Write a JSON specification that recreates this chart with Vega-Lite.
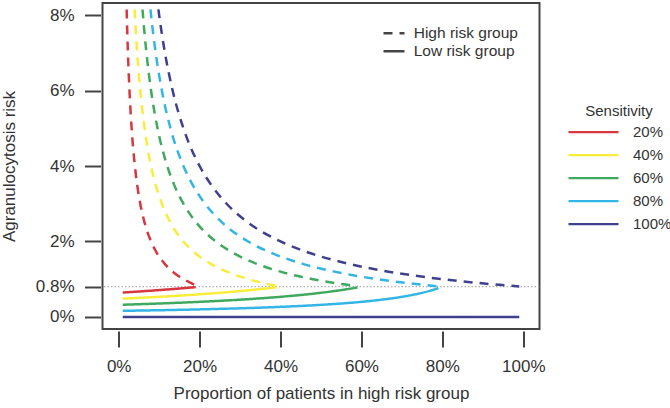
{
  "$schema": "https://vega.github.io/schema/vega-lite/v6.json",
  "width": 437,
  "height": 326,
  "autosize": "none",
  "padding": {"left": 102.5, "top": 3, "right": 130.5, "bottom": 79},
  "background": "white",
  "config": {
    "font": "Liberation Sans",
    "view": {"stroke": "#444", "strokeWidth": 2}
  },
  "layer": [
    {
      "data": {"values": [{"ref": 0.8}]},
      "mark": {"type": "rule", "stroke": "#9a9a9a", "strokeDash": [1.5, 2], "strokeWidth": 1},
      "encoding": {
        "y": {"field": "ref", "type": "quantitative", "scale": {"domain": [-0.32, 8.32], "nice": false, "zero": false}}
      }
    },
    {
      "data": {
        "values": [
          {"s": "20%", "g": "High", "x": 1.778, "y": 9},
          {"s": "20%", "g": "High", "x": 2, "y": 8},
          {"s": "20%", "g": "High", "x": 2.286, "y": 7},
          {"s": "20%", "g": "High", "x": 2.667, "y": 6},
          {"s": "20%", "g": "High", "x": 3.2, "y": 5},
          {"s": "20%", "g": "High", "x": 4, "y": 4},
          {"s": "20%", "g": "High", "x": 4.571, "y": 3.5},
          {"s": "20%", "g": "High", "x": 5.333, "y": 3},
          {"s": "20%", "g": "High", "x": 6.4, "y": 2.5},
          {"s": "20%", "g": "High", "x": 8, "y": 2},
          {"s": "20%", "g": "High", "x": 9.412, "y": 1.7},
          {"s": "20%", "g": "High", "x": 11.43, "y": 1.4},
          {"s": "20%", "g": "High", "x": 13.33, "y": 1.2},
          {"s": "20%", "g": "High", "x": 14.55, "y": 1.1},
          {"s": "20%", "g": "High", "x": 16, "y": 1},
          {"s": "20%", "g": "High", "x": 17.78, "y": 0.9},
          {"s": "20%", "g": "High", "x": 19, "y": 0.842},
          {"s": "40%", "g": "High", "x": 3.556, "y": 9},
          {"s": "40%", "g": "High", "x": 4, "y": 8},
          {"s": "40%", "g": "High", "x": 4.571, "y": 7},
          {"s": "40%", "g": "High", "x": 5.333, "y": 6},
          {"s": "40%", "g": "High", "x": 6.4, "y": 5},
          {"s": "40%", "g": "High", "x": 8, "y": 4},
          {"s": "40%", "g": "High", "x": 9.143, "y": 3.5},
          {"s": "40%", "g": "High", "x": 10.67, "y": 3},
          {"s": "40%", "g": "High", "x": 12.8, "y": 2.5},
          {"s": "40%", "g": "High", "x": 16, "y": 2},
          {"s": "40%", "g": "High", "x": 18.82, "y": 1.7},
          {"s": "40%", "g": "High", "x": 22.86, "y": 1.4},
          {"s": "40%", "g": "High", "x": 26.67, "y": 1.2},
          {"s": "40%", "g": "High", "x": 29.09, "y": 1.1},
          {"s": "40%", "g": "High", "x": 32, "y": 1},
          {"s": "40%", "g": "High", "x": 35.56, "y": 0.9},
          {"s": "40%", "g": "High", "x": 37.65, "y": 0.85},
          {"s": "40%", "g": "High", "x": 39, "y": 0.8205},
          {"s": "60%", "g": "High", "x": 5.333, "y": 9},
          {"s": "60%", "g": "High", "x": 6, "y": 8},
          {"s": "60%", "g": "High", "x": 6.857, "y": 7},
          {"s": "60%", "g": "High", "x": 8, "y": 6},
          {"s": "60%", "g": "High", "x": 9.6, "y": 5},
          {"s": "60%", "g": "High", "x": 12, "y": 4},
          {"s": "60%", "g": "High", "x": 13.71, "y": 3.5},
          {"s": "60%", "g": "High", "x": 16, "y": 3},
          {"s": "60%", "g": "High", "x": 19.2, "y": 2.5},
          {"s": "60%", "g": "High", "x": 24, "y": 2},
          {"s": "60%", "g": "High", "x": 28.24, "y": 1.7},
          {"s": "60%", "g": "High", "x": 34.29, "y": 1.4},
          {"s": "60%", "g": "High", "x": 40, "y": 1.2},
          {"s": "60%", "g": "High", "x": 43.64, "y": 1.1},
          {"s": "60%", "g": "High", "x": 48, "y": 1},
          {"s": "60%", "g": "High", "x": 53.33, "y": 0.9},
          {"s": "60%", "g": "High", "x": 56.47, "y": 0.85},
          {"s": "60%", "g": "High", "x": 59, "y": 0.8136},
          {"s": "80%", "g": "High", "x": 7.111, "y": 9},
          {"s": "80%", "g": "High", "x": 8, "y": 8},
          {"s": "80%", "g": "High", "x": 9.143, "y": 7},
          {"s": "80%", "g": "High", "x": 10.67, "y": 6},
          {"s": "80%", "g": "High", "x": 12.8, "y": 5},
          {"s": "80%", "g": "High", "x": 16, "y": 4},
          {"s": "80%", "g": "High", "x": 18.29, "y": 3.5},
          {"s": "80%", "g": "High", "x": 21.33, "y": 3},
          {"s": "80%", "g": "High", "x": 25.6, "y": 2.5},
          {"s": "80%", "g": "High", "x": 32, "y": 2},
          {"s": "80%", "g": "High", "x": 37.65, "y": 1.7},
          {"s": "80%", "g": "High", "x": 45.71, "y": 1.4},
          {"s": "80%", "g": "High", "x": 53.33, "y": 1.2},
          {"s": "80%", "g": "High", "x": 58.18, "y": 1.1},
          {"s": "80%", "g": "High", "x": 64, "y": 1},
          {"s": "80%", "g": "High", "x": 71.11, "y": 0.9},
          {"s": "80%", "g": "High", "x": 75.29, "y": 0.85},
          {"s": "80%", "g": "High", "x": 79, "y": 0.8101},
          {"s": "100%", "g": "High", "x": 8.889, "y": 9},
          {"s": "100%", "g": "High", "x": 10, "y": 8},
          {"s": "100%", "g": "High", "x": 11.43, "y": 7},
          {"s": "100%", "g": "High", "x": 13.33, "y": 6},
          {"s": "100%", "g": "High", "x": 16, "y": 5},
          {"s": "100%", "g": "High", "x": 20, "y": 4},
          {"s": "100%", "g": "High", "x": 22.86, "y": 3.5},
          {"s": "100%", "g": "High", "x": 26.67, "y": 3},
          {"s": "100%", "g": "High", "x": 32, "y": 2.5},
          {"s": "100%", "g": "High", "x": 40, "y": 2},
          {"s": "100%", "g": "High", "x": 47.06, "y": 1.7},
          {"s": "100%", "g": "High", "x": 57.14, "y": 1.4},
          {"s": "100%", "g": "High", "x": 66.67, "y": 1.2},
          {"s": "100%", "g": "High", "x": 72.73, "y": 1.1},
          {"s": "100%", "g": "High", "x": 80, "y": 1},
          {"s": "100%", "g": "High", "x": 88.89, "y": 0.9},
          {"s": "100%", "g": "High", "x": 94.12, "y": 0.85},
          {"s": "100%", "g": "High", "x": 99, "y": 0.8081},
          {"s": "20%", "g": "Low", "x": 1, "y": 0.6465},
          {"s": "20%", "g": "Low", "x": 5, "y": 0.6737},
          {"s": "20%", "g": "Low", "x": 10, "y": 0.7111},
          {"s": "20%", "g": "Low", "x": 15, "y": 0.7529},
          {"s": "20%", "g": "Low", "x": 19, "y": 0.7901},
          {"s": "40%", "g": "Low", "x": 1, "y": 0.4848},
          {"s": "40%", "g": "Low", "x": 10, "y": 0.5333},
          {"s": "40%", "g": "Low", "x": 20, "y": 0.6},
          {"s": "40%", "g": "Low", "x": 30, "y": 0.6857},
          {"s": "40%", "g": "Low", "x": 35, "y": 0.7385},
          {"s": "40%", "g": "Low", "x": 39, "y": 0.7869},
          {"s": "60%", "g": "Low", "x": 1, "y": 0.3232},
          {"s": "60%", "g": "Low", "x": 10, "y": 0.3556},
          {"s": "60%", "g": "Low", "x": 20, "y": 0.4},
          {"s": "60%", "g": "Low", "x": 30, "y": 0.4571},
          {"s": "60%", "g": "Low", "x": 40, "y": 0.5333},
          {"s": "60%", "g": "Low", "x": 50, "y": 0.64},
          {"s": "60%", "g": "Low", "x": 55, "y": 0.7111},
          {"s": "60%", "g": "Low", "x": 59, "y": 0.7805},
          {"s": "80%", "g": "Low", "x": 1, "y": 0.1616},
          {"s": "80%", "g": "Low", "x": 20, "y": 0.2},
          {"s": "80%", "g": "Low", "x": 40, "y": 0.2667},
          {"s": "80%", "g": "Low", "x": 50, "y": 0.32},
          {"s": "80%", "g": "Low", "x": 60, "y": 0.4},
          {"s": "80%", "g": "Low", "x": 65, "y": 0.4571},
          {"s": "80%", "g": "Low", "x": 70, "y": 0.5333},
          {"s": "80%", "g": "Low", "x": 75, "y": 0.64},
          {"s": "80%", "g": "Low", "x": 77, "y": 0.6957},
          {"s": "80%", "g": "Low", "x": 79, "y": 0.7619},
          {"s": "100%", "g": "Low", "x": 1, "y": 0},
          {"s": "100%", "g": "Low", "x": 99, "y": 0}
        ]
      },
      "mark": {"type": "line", "clip": true, "strokeWidth": 2.5, "interpolate": "monotone"},
      "encoding": {
        "x": {
          "field": "x", "type": "quantitative",
          "scale": {"domain": [-4, 104], "nice": false, "zero": false},
          "axis": {
            "values": [0, 20, 40, 60, 80, 100],
            "labelExpr": "datum.value + '%'",
            "title": "Proportion of patients in high risk group",
            "domain": false, "grid": false,
            "tickSize": 16, "tickWidth": 2, "tickColor": "#444",
            "offset": 2, "labelPadding": 11,
            "labelFontSize": 17, "labelColor": "#333",
            "labelFlush": false, "labelOverlap": false,
            "titleFontSize": 17, "titleFontWeight": "normal", "titleColor": "#333",
            "titlePadding": 11
          }
        },
        "y": {
          "field": "y", "type": "quantitative",
          "scale": {"domain": [-0.32, 8.32], "nice": false, "zero": false},
          "axis": {
            "values": [0, 0.8, 2, 4, 6, 8],
            "labelExpr": "datum.value + '%'",
            "title": "Agranulocytosis risk",
            "domain": false, "grid": false,
            "tickSize": 16, "tickWidth": 2, "tickColor": "#444",
            "offset": 2, "labelPadding": 10.5,
            "labelFontSize": 17, "labelColor": "#333",
            "labelFlush": false, "labelOverlap": false,
            "titleFontSize": 17, "titleFontWeight": "normal", "titleColor": "#333",
            "titlePadding": 17
          }
        },
        "color": {
          "field": "s", "type": "nominal",
          "scale": {
            "domain": ["20%", "40%", "60%", "80%", "100%"],
            "range": ["#d7373f", "#f8ee3a", "#3fa95e", "#33b5e5", "#41408f"]
          },
          "legend": {
            "title": "Sensitivity",
            "orient": "none", "legendX": 464.5, "legendY": 100.8,
            "symbolType": "stroke", "symbolSize": 2500, "symbolStrokeWidth": 2.2,
            "clipHeight": 22.7, "rowPadding": 0, "labelOffset": 13,
            "labelFontSize": 15, "labelColor": "#333",
            "titleFontSize": 15, "titleFontWeight": "normal", "titleColor": "#333",
            "titleAnchor": "middle", "titlePadding": 2, "padding": 0
          }
        },
        "strokeDash": {
          "field": "g", "type": "nominal",
          "scale": {"domain": ["High", "Low"], "range": [[9, 7], [1, 0]]},
          "legend": {
            "title": null,
            "orient": "none", "legendX": 279.5, "legendY": 21.5,
            "symbolType": "stroke", "symbolSize": 441, "symbolStrokeWidth": 2.5,
            "symbolStrokeColor": "#444",
            "clipHeight": 17.7, "rowPadding": 0, "labelOffset": 7.7,
            "labelExpr": "datum.label + ' risk group'",
            "labelFontSize": 15.5, "labelColor": "#333", "padding": 0,
            "encode": {"symbols": {"update": {"strokeDash": {"signal": "datum.value == 'High' ? [6, 9] : [1, 0]"}, "stroke": {"value": "#444"}}}}
          }
        }
      }
    }
  ]
}
